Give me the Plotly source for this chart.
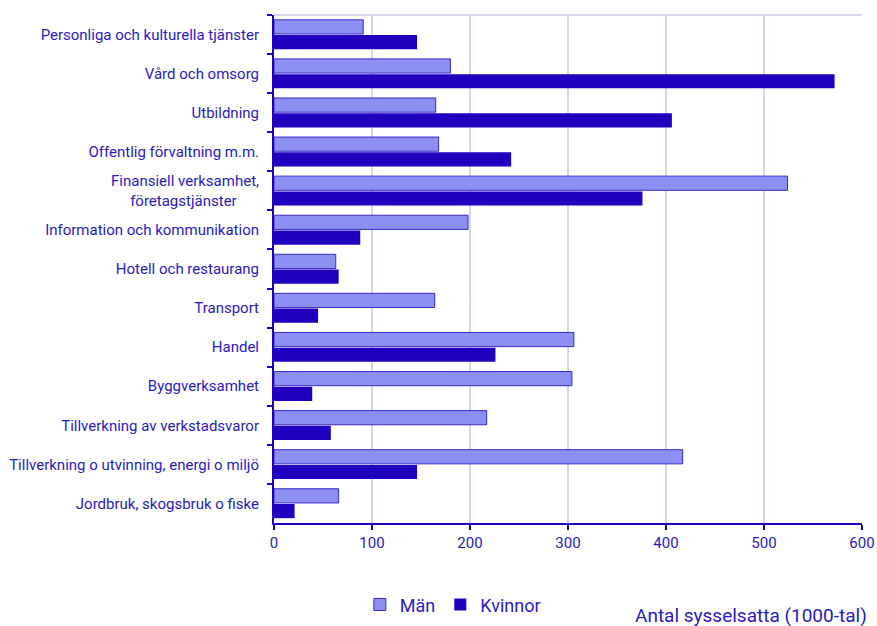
import plotly.graph_objects as go

categories = [
    "Personliga och kulturella tjänster",
    "Vård och omsorg",
    "Utbildning",
    "Offentlig förvaltning m.m.",
    "Finansiell verksamhet,<br>företagstjänster\u00a0\u00a0\u00a0\u00a0\u00a0\u00a0",
    "Information och kommunikation",
    "Hotell och restaurang",
    "Transport",
    "Handel",
    "Byggverksamhet",
    "Tillverkning av verkstadsvaror",
    "Tillverkning o utvinning, energi o miljö",
    "Jordbruk, skogsbruk o fiske",
]
man = [91, 180, 165, 168, 524, 198, 63, 164, 306, 304, 217, 417, 66]
kvinnor = [146, 572, 406, 242, 376, 88, 66, 45, 226, 39, 58, 146, 21]
x_ticks = [0, 100, 200, 300, 400, 500, 600]

TEXT = "#2A1AC6"
DARK = "#2000BE"
LIGHT = "#8C90F2"
GRID = "#D6D6EE"

fig = go.Figure()
fig.add_trace(go.Bar(
    y=categories, x=man, name="Män", orientation="h",
    marker=dict(color=LIGHT, line=dict(color="#3A28CA", width=1)),
))
fig.add_trace(go.Bar(
    y=categories, x=kvinnor, name="Kvinnor", orientation="h",
    marker=dict(color=DARK, line=dict(color=DARK, width=0)),
))

fig.update_layout(
    width=877, height=626,
    margin=dict(l=274, r=15, t=15, b=103, autoexpand=False),
    paper_bgcolor="white", plot_bgcolor="white",
    font=dict(family="Roboto", size=15, color=TEXT),
    barmode="group", bargap=0.22, bargroupgap=0.07,
    showlegend=True,
    legend=dict(orientation="h", x=0.146, xanchor="left", y=-0.161, yanchor="middle",
                font=dict(size=18, color=TEXT), itemwidth=30, traceorder="normal"),
    xaxis=dict(range=[0, 600], tickvals=x_ticks, showgrid=True, gridcolor=GRID, gridwidth=2,
               zeroline=False, showline=True, linecolor=DARK, linewidth=2,
               ticks="outside", ticklen=5, tickcolor=DARK, tickwidth=2,
               tickfont=dict(size=15, color=TEXT)),
    yaxis=dict(autorange="reversed", showline=True, linecolor=DARK, linewidth=2,
               ticks="outside", tickson="boundaries", ticklen=5, tickcolor=DARK, tickwidth=2,
               ticklabelstandoff=10,
               showgrid=False, tickfont=dict(size=15, color=TEXT)),
    shapes=[dict(type="line", xref="paper", yref="paper", x0=0, x1=1, y0=1, y1=1,
                 line=dict(color=GRID, width=2), layer="below")],
    annotations=[dict(text="Antal sysselsatta (1000-tal)", xref="paper", yref="paper",
                      x=1.0125, y=-0.183, xanchor="right", yanchor="middle", showarrow=False,
                      font=dict(size=19, color=TEXT))],
)

fig.write_html("out.html",
               config={"displayModeBar": False},
               post_script="document.body.style.margin='0';document.body.style.overflow='hidden';")
